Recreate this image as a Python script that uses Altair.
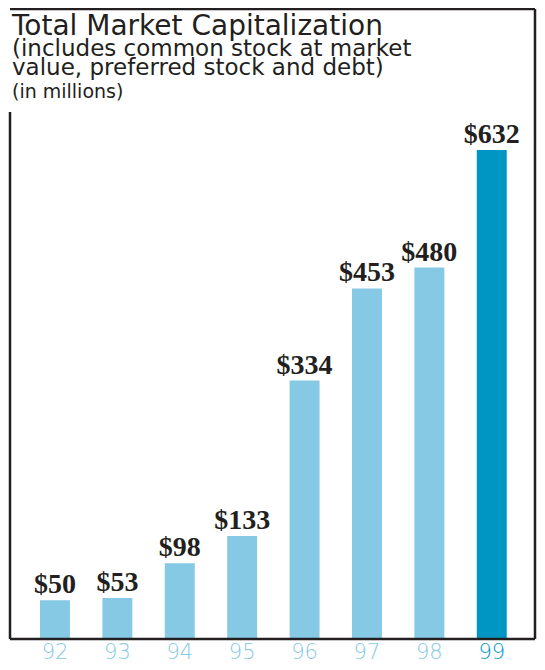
import altair as alt
import pandas as pd

years = ["92", "93", "94", "95", "96", "97", "98", "99"]
values = [50, 53, 98, 133, 334, 453, 480, 632]
highlight_year = "99"

title_line = "Total Market Capitalization"
sub_lines = ["(includes common stock at market", "value, preferred stock and debt)"]
unit_line = "(in millions)"

LIGHT = "#86c9e4"
DARK = "#0096c4"
INK = "#231f20"

W, H = 525, 527

df = pd.DataFrame({"year": years, "value": values})
df["label"] = ["$" + str(v) for v in values]

xenc = alt.X(
    "year:N",
    sort=None,
    title=None,
    scale=alt.Scale(paddingInner=0.52, paddingOuter=0.467, align=0.515),
    axis=alt.Axis(
        domain=False,
        ticks=False,
        labelAngle=0,
        labelPadding=2,
        labelFont="DejaVu Sans",
        labelFontWeight=200,
        labelFontSize=21,
        labelColor={"condition": {"test": f"datum.value == '{highlight_year}'", "value": DARK}, "value": LIGHT},
    ),
)
yenc = alt.Y("value:Q", scale=alt.Scale(domain=[0, 681]), axis=None)

base = alt.Chart(df)

bars = base.mark_bar().encode(
    x=xenc,
    y=yenc,
    color=alt.condition(alt.datum.year == highlight_year, alt.value(DARK), alt.value(LIGHT)),
)

labels = base.mark_text(
    font="Liberation Serif",
    fontWeight="bold",
    fontSize=28,
    baseline="alphabetic",
    dy=-7,
    color=INK,
).encode(x=xenc, y=yenc, text="label:N")

one = alt.Data(values=[{}])


def header(text, y, size):
    return alt.Chart(one).mark_text(
        font="DejaVu Sans", fontSize=size, align="left", baseline="alphabetic", color=INK
    ).encode(x=alt.value(2), y=alt.value(y), text=alt.value(text))


h1 = header(title_line, -77, 28)
h2 = header(sub_lines[0], -56, 23)
h3 = header(sub_lines[1], -37, 23)
h4 = header(unit_line, -14, 19)

rule_style = dict(color=INK, strokeWidth=2.5)
top_rule = alt.Chart(one).mark_rule(**rule_style).encode(x=alt.value(0), x2=alt.value(W), y=alt.value(-103))
right_rule = alt.Chart(one).mark_rule(**rule_style).encode(x=alt.value(W), y=alt.value(-103), y2=alt.value(H))
bottom_rule = alt.Chart(one).mark_rule(**rule_style).encode(x=alt.value(0), x2=alt.value(W), y=alt.value(H))
left_rule = alt.Chart(one).mark_rule(**rule_style).encode(x=alt.value(0), y=alt.value(0), y2=alt.value(H))

chart = (
    alt.layer(bars, labels, h1, h2, h3, h4, top_rule, right_rule, bottom_rule, left_rule)
    .properties(
        width=W,
        height=H,
        autosize=alt.AutoSizeParams(type="none"),
        padding={"left": 2, "top": 104, "right": 2, "bottom": 23},
        background="white",
    )
    .configure_view(strokeWidth=0)
)

chart.save("out.html", embed_options={"renderer": "svg", "actions": False})
